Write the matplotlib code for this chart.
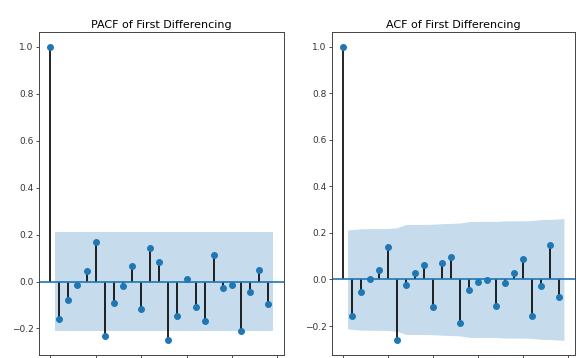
import numpy as np
import matplotlib

matplotlib.use("Agg")
import matplotlib.pyplot as plt


# Lags 1..24 (lag 0 is always 1.0)
lags = np.arange(0, 25)
pacf_vals = [1.0,
             -0.160, -0.078, -0.016, 0.043, 0.167, -0.234, -0.090, -0.020,
             0.064, -0.116, 0.142, 0.085, -0.251, -0.149, 0.011, -0.110,
             -0.167, 0.113, -0.028, -0.014, -0.210, -0.043, 0.050, -0.095]
acf_vals = [1.0,
            -0.158, -0.055, 0.004, 0.039, 0.140, -0.262, -0.024, 0.029,
            0.062, -0.118, 0.069, 0.095, -0.187, -0.047, -0.013, -0.004,
            -0.115, -0.014, 0.029, 0.086, -0.158, -0.030, 0.148, -0.076]
n_obs = 85
z = 1.96


def draw_corr(ax, vals, band, title):
    vals = np.asarray(vals)
    ax.vlines(lags, [0], vals, colors="k", linewidth=1.2)
    ax.axhline(0, color="C0", linewidth=1.2)
    ax.plot(lags, vals, marker="o", markersize=4, linestyle="None", color="C0")
    # confidence band, lag 0 skipped, edges padded by half a lag
    x = lags[1:].astype(float)
    x[0] -= 0.5
    x[-1] += 0.5
    ax.fill_between(x, -band, band, color="C0", alpha=0.25, linewidth=0)
    ax.margins(0.05)
    ax.set_title(title, fontsize=8, pad=3)
    ax.tick_params(labelsize=6.5, length=2.5, width=0.6, pad=1.5, colors="#333333")
    # lag labels sit below the figure edge
    ax.tick_params(axis="x", labelbottom=False)
    for s in ax.spines.values():
        s.set_linewidth(0.7)
        s.set_color("#444444")


# PACF band: constant 1.96/sqrt(n)
pacf_band = np.full(24, z / np.sqrt(n_obs))
# ACF band: Bartlett's formula
acf_arr = np.asarray(acf_vals)
cum = np.concatenate([[0.0], np.cumsum(acf_arr[1:-1] ** 2)])
acf_band = z * np.sqrt((1 + 2 * cum) / n_obs)

fig = plt.figure(figsize=(5.77, 3.58), dpi=100)
ax1 = fig.add_axes([0.0676, 0.008, 0.4246, 0.9026])
ax2 = fig.add_axes([0.5754, 0.008, 0.4211, 0.9026])

draw_corr(ax1, pacf_vals, pacf_band, "PACF of First Differencing")
draw_corr(ax2, acf_vals, acf_band, "ACF of First Differencing")

fig.savefig("out.png", dpi=100)
